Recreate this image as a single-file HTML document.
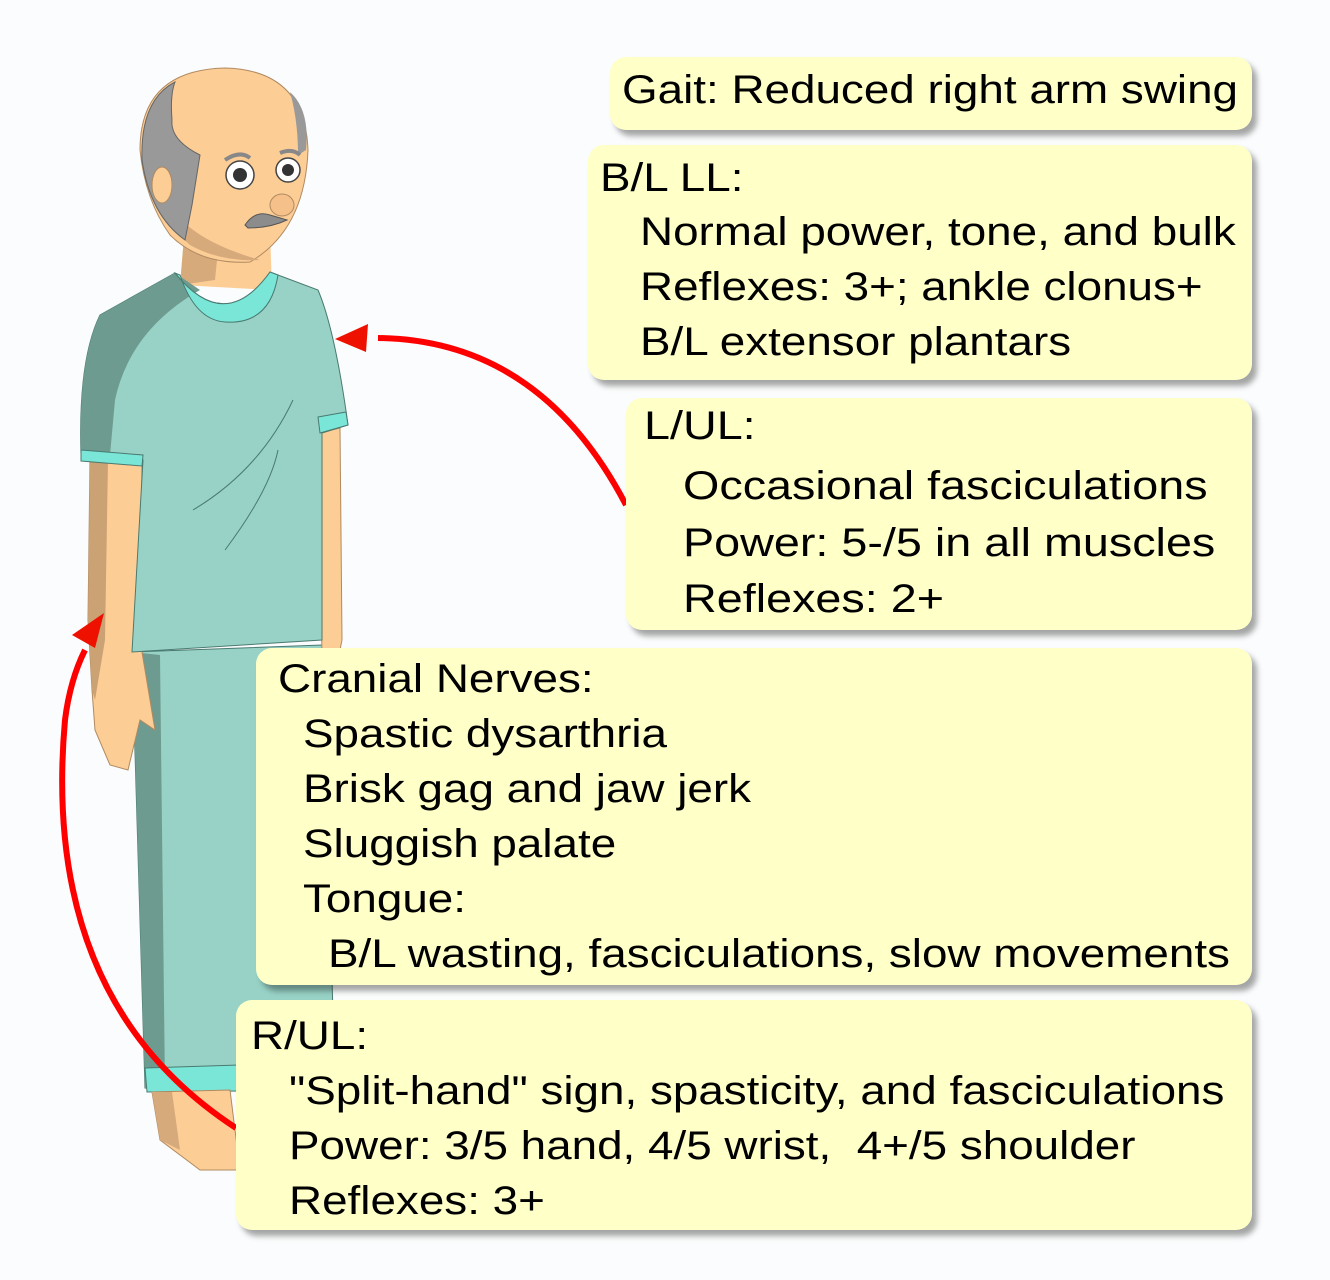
<!DOCTYPE html>
<html><head><meta charset="utf-8"><style>
html,body{margin:0;padding:0;background:#fbfcfd;}
body{width:1330px;height:1280px;position:relative;overflow:hidden;font-family:"Liberation Sans",Arial,sans-serif;}
.b{position:absolute;background:#ffffc8;border-radius:16px;box-shadow:5px 6px 6px rgba(0,0,0,0.35);font-size:40px;color:#000;}
.b div{position:absolute;white-space:nowrap;line-height:1;transform:scaleX(1.145);transform-origin:0 0;}
.b.l div{transform:scaleX(1.168);}
svg{position:absolute;left:0;top:0;}
</style></head><body>
<svg width="1330" height="1280" viewBox="0 0 1330 1280">
<path d="M132 652 L322 645 L335 1080 L250 1090 L145 1088 Z" fill="#98d2c6" stroke="#4a7a70" stroke-width="1"/>
<path d="M132 652 L160 655 L165 1088 L145 1088 Z" fill="#6e9b90"/>
<path d="M145 1068 L335 1062 L336 1090 L147 1092 Z" fill="#7ae6d8" stroke="#4a7a70" stroke-width="1"/>
<path d="M152 1092 L230 1090 L240 1170 L200 1170 L160 1140 Z" fill="#fdcd96" stroke="#b08a60" stroke-width="1"/>
<path d="M152 1092 L172 1092 L180 1150 L160 1140 Z" fill="#d7aa7c"/>
<path d="M90 458 L142 462 L140 640 L150 700 L155 730 L140 720 L128 770 L110 765 L95 730 L92 690 L88 620 Z" fill="#fdcd96" stroke="#b08a60" stroke-width="1"/>
<path d="M90 458 L108 460 L105 640 L95 700 L92 690 L88 620 Z" fill="#caa274"/>
<path d="M318 433 L340 428 L342 640 L338 660 L322 655 Z" fill="#fdcd96" stroke="#b08a60" stroke-width="1"/>
<path d="M185 225 L270 230 L272 290 L180 285 Z" fill="#fdcd96"/>
<path d="M185 225 L220 230 L215 280 L180 285 Z" fill="#d7aa7c"/>
<path d="M175 273 Q225 335 270 272 L318 290 Q335 330 348 425 L322 433 L322 640 L132 652 L143 460 L81 455 Q78 360 100 315 Z" fill="#98d2c6" stroke="#4a7a70" stroke-width="1"/>
<path d="M175 273 L200 290 Q130 330 115 400 L110 455 L81 455 Q78 360 100 315 Z" fill="#6e9b90"/>
<path d="M81 450 L143 455 L142 466 L81 461 Z" fill="#7ae6d8" stroke="#4a7a70" stroke-width="1"/>
<path d="M318 417 L346 412 L348 425 L320 433 Z" fill="#7ae6d8" stroke="#4a7a70" stroke-width="1"/>
<path d="M175 273 Q225 335 270 272 L278 275 Q270 325 225 322 Q195 320 180 275 Z" fill="#7ae6d8" stroke="#4a7a70" stroke-width="1"/>
<path d="M193 510 Q260 470 293 400 M225 550 Q270 490 278 450" fill="none" stroke="#4a7a70" stroke-width="1"/>
<path d="M140 150 Q140 70 225 68 Q305 70 308 150 Q305 230 250 262 Q200 265 170 235 Q145 200 140 150 Z" fill="#fdcd96" stroke="#b08a60" stroke-width="1"/>
<path d="M170 205 Q190 240 260 260 Q220 262 190 245 Q160 220 150 180 Z" fill="#d7aa7c"/>
<path d="M175 82 Q140 100 142 160 Q150 215 185 240 L192 205 L200 155 Q170 140 172 120 Q170 95 175 82 Z" fill="#999" stroke="#666" stroke-width="1"/>
<path d="M290 92 Q310 110 306 150 L298 155 Q298 120 290 92 Z" fill="#999"/>
<ellipse cx="162" cy="185" rx="10" ry="18" fill="#fdcd96" stroke="#b08a60" stroke-width="1"/>
<circle cx="240" cy="175" r="14" fill="#fff" stroke="#444" stroke-width="1.5"/>
<circle cx="240" cy="175" r="7" fill="#333"/>
<circle cx="288" cy="170" r="12" fill="#fff" stroke="#444" stroke-width="1.5"/>
<circle cx="288" cy="170" r="6" fill="#333"/>
<path d="M225 160 Q240 150 250 158 M280 153 Q292 148 300 155" stroke="#888" stroke-width="4" fill="none"/>
<ellipse cx="282" cy="205" rx="12" ry="11" fill="#f5c08a" stroke="#b08a60" stroke-width="1"/>
<path d="M245 225 Q255 210 270 215 L287 220 Q270 228 248 228 Z" fill="#8c8c8c" stroke="#555" stroke-width="1"/>
<path d="M626 505 Q540 340 378 338" fill="none" stroke="#ff0000" stroke-width="6"/>
<path d="M335 339 L368 324 L366 352 Z" fill="#ee1100"/>
<path d="M236 1128 Q40 1000 65 720 Q70 680 85 650" fill="none" stroke="#ff0000" stroke-width="6"/>
<path d="M104 613 L72 635 L95 648 Z" fill="#ee1100"/>
</svg>
<div class="b" style="left:610px;top:57px;width:642px;height:73px;"><div style="left:12px;top:13px;">Gait: Reduced right arm swing</div></div>
<div class="b" style="left:588px;top:145px;width:664px;height:235px;">
<div style="left:12px;top:13px;">B/L LL:</div>
<div style="left:52px;top:67px;">Normal power, tone, and bulk</div>
<div style="left:52px;top:122px;">Reflexes: 3+; ankle clonus+</div>
<div style="left:52px;top:177px;">B/L extensor plantars</div></div>
<div class="b l" style="left:626px;top:398px;width:626px;height:232px;">
<div style="left:18px;top:8px;">L/UL:</div>
<div style="left:57px;top:68px;">Occasional fasciculations</div>
<div style="left:57px;top:125px;">Power: 5-/5 in all muscles</div>
<div style="left:57px;top:181px;">Reflexes: 2+</div></div>
<div class="b" style="left:256px;top:648px;width:996px;height:337px;">
<div style="left:22px;top:11px;">Cranial Nerves:</div>
<div style="left:47px;top:66px;">Spastic dysarthria</div>
<div style="left:47px;top:121px;">Brisk gag and jaw jerk</div>
<div style="left:47px;top:176px;">Sluggish palate</div>
<div style="left:47px;top:231px;">Tongue:</div>
<div style="left:72px;top:286px;">B/L wasting, fasciculations, slow movements</div></div>
<div class="b" style="left:236px;top:1000px;width:1016px;height:230px;">
<div style="left:15px;top:16px;">R/UL:</div>
<div style="left:53px;top:71px;">"Split-hand" sign, spasticity, and fasciculations</div>
<div style="left:53px;top:126px;">Power: 3/5 hand, 4/5 wrist,&nbsp; 4+/5 shoulder</div>
<div style="left:53px;top:181px;">Reflexes: 3+</div></div>
</body></html>
